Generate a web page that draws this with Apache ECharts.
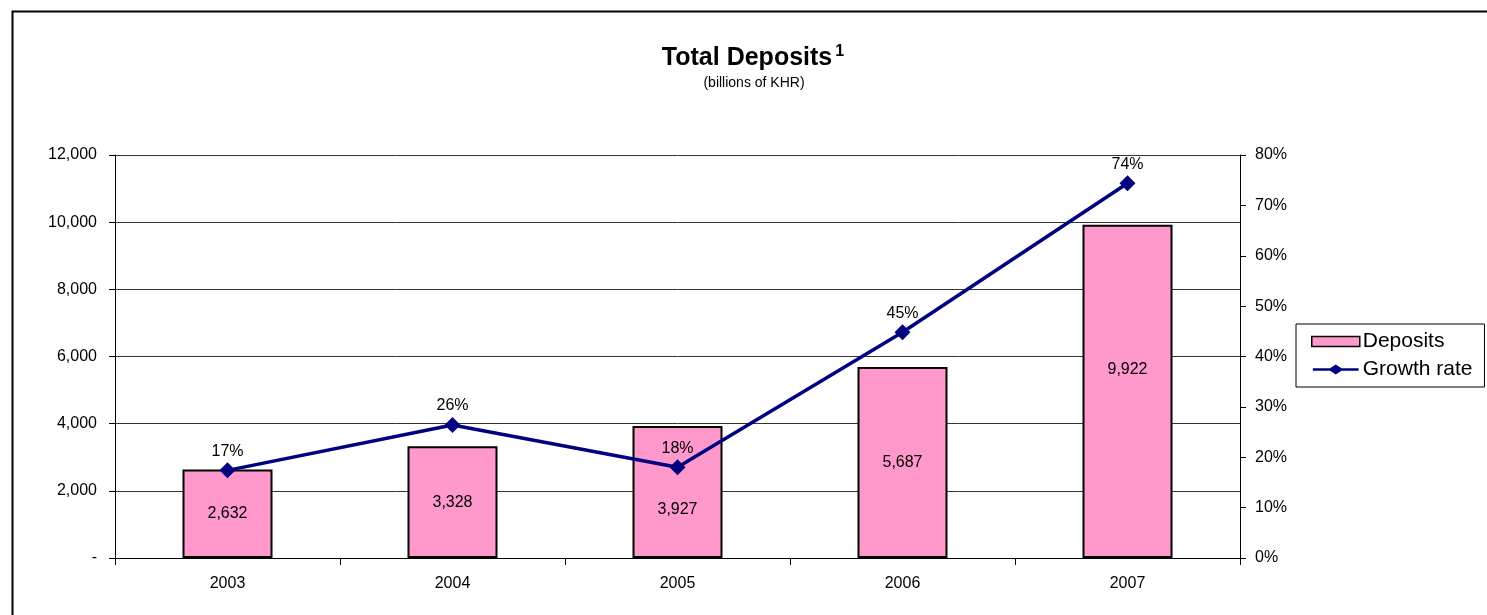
<!DOCTYPE html>
<html><head><meta charset="utf-8">
<script src="https://cdn.jsdelivr.net/npm/echarts@6/dist/echarts.min.js"></script>
<style>html,body{margin:0;padding:0;background:#fff}#c{width:1487px;height:615px}</style>
</head><body><div id="c"></div>
<script>
const categories = ['2003','2004','2005','2006','2007'];
const deposits = [2632, 3328, 3927, 5687, 9922];
const growthRate = [17.4, 26.4, 18.0, 44.8, 74.4];

const FONT = '"Liberation Sans", Arial, sans-serif';
const labelShift = {2: [0, 18], 4: [0, -22]};
const chart = echarts.init(document.getElementById('c'));
chart.setOption({
  animation: false,
  textStyle: {fontFamily: FONT, color: '#000'},
  graphic: [
    {type: 'rect', shape: {x: 12.5, y: 11.5, width: 1500, height: 700}, style: {fill: 'none', stroke: '#000', lineWidth: 2}, silent: true},
    {type: 'text', x: 753, y: 44, style: {
      text: '{t|Total Deposits}{s|1}', align: 'center', verticalAlign: 'top', fill: '#000',
      rich: {
        t: {font: 'bold 25px ' + FONT, fill: '#000', verticalAlign: 'bottom', height: 28},
        s: {font: 'bold 16px ' + FONT, fill: '#000', verticalAlign: 'top', padding: [0, 0, 10, 3]}
      }
    }},
    {type: 'text', x: 754, y: 76, style: {text: '(billions of KHR)', align: 'center', font: '14px ' + FONT, fill: '#000'}}
  ],
  legend: {
    orient: 'vertical', left: 1296, top: 324, padding: [7, 12, 7, 15],
    borderColor: '#000', borderWidth: 1, itemGap: 7, itemWidth: 48, itemHeight: 10,
    textStyle: {fontSize: 21, fontFamily: FONT, color: '#000', padding: [0, 0, 0, -2]},
    data: [
      {name: 'Deposits', icon: 'rect', itemStyle: {color: '#FF99CC', borderColor: '#000', borderWidth: 1.5}},
      {name: 'Growth rate', icon: 'path://M0,4 L18,4 L24,0 L30,4 L48,4 L48,6.5 L30,6.5 L24,10.5 L18,6.5 L0,6.5 Z',
        itemStyle: {color: '#000080', borderWidth: 0}}
    ]
  },
  grid: {left: 115, right: 247, top: 155, bottom: 57},
  xAxis: {
    type: 'category', data: categories,
    axisLine: {lineStyle: {color: '#000', width: 1}},
    axisTick: {show: true, length: 7, lineStyle: {color: '#000'}},
    axisLabel: {fontSize: 16, color: '#000', margin: 18, fontFamily: FONT}
  },
  yAxis: [
    {
      type: 'value', min: 0, max: 12000, interval: 2000,
      axisLine: {show: true, lineStyle: {color: '#000'}},
      axisTick: {show: true, length: 6, lineStyle: {color: '#000'}},
      splitLine: {lineStyle: {color: '#333', width: 1}},
      axisLabel: {fontSize: 16, color: '#000', margin: 18, fontFamily: FONT,
        formatter: v => v === 0 ? '-' : v.toLocaleString('en-US')}
    },
    {
      type: 'value', min: 0, max: 80, interval: 10,
      axisLine: {show: true, lineStyle: {color: '#000'}},
      axisTick: {show: true, length: 6, lineStyle: {color: '#000'}},
      splitLine: {show: false},
      axisLabel: {fontSize: 16, color: '#000', margin: 15, fontFamily: FONT, formatter: '{value}%'}
    }
  ],
  series: [
    {
      name: 'Deposits', type: 'bar', barWidth: '40%', yAxisIndex: 0, z: 2,
      itemStyle: {color: '#FF99CC', borderColor: '#000', borderWidth: 2},
      label: {show: true, position: 'inside', fontSize: 16, color: '#000', fontFamily: FONT,
        formatter: p => p.value.toLocaleString('en-US')},
      data: deposits.map((v, i) => labelShift[i] ? {value: v, label: {offset: labelShift[i]}} : v)
    },
    {
      name: 'Growth rate', type: 'line', yAxisIndex: 1, z: 5,
      symbol: 'diamond', symbolSize: 16, showAllSymbol: true,
      lineStyle: {color: '#000080', width: 3.5},
      itemStyle: {color: '#000080'},
      label: {show: true, position: 'top', distance: 3, fontSize: 16, color: '#000', fontFamily: FONT,
        formatter: p => Math.round(p.value) + '%'},
      data: growthRate
    }
  ]
});
</script></body></html>
